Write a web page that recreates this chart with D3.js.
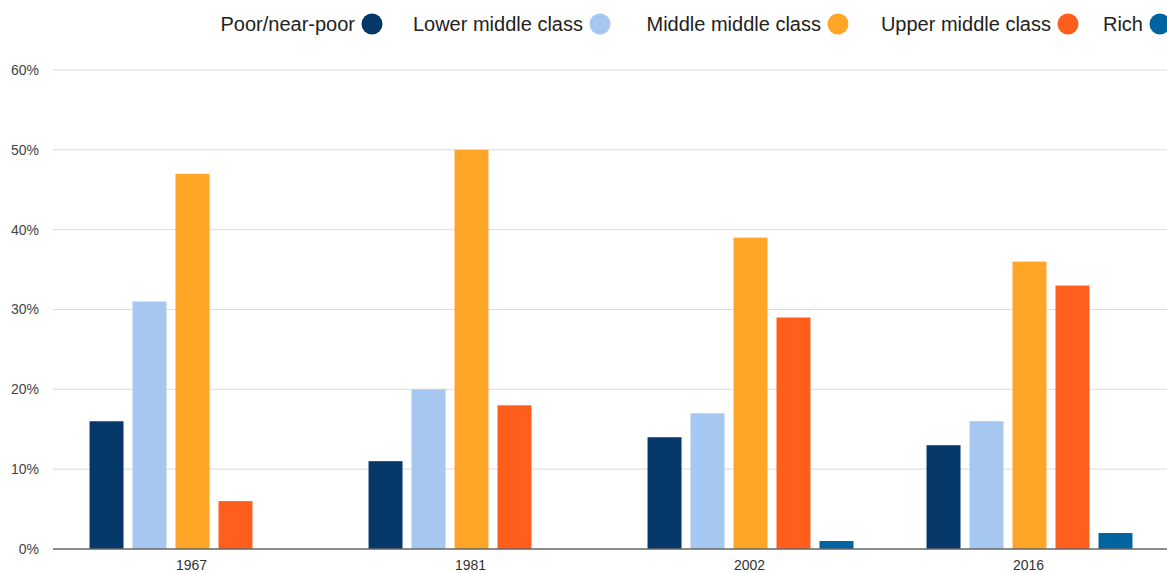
<!DOCTYPE html>
<html><head><meta charset="utf-8">
<script src="https://cdn.jsdelivr.net/npm/d3@7"></script>
<style>
html,body{margin:0;padding:0;background:#fff;overflow:hidden;}
svg{display:block;font-family:"Liberation Sans",Arial,sans-serif;}
</style></head>
<body>
<svg id="chart" width="1167" height="573"></svg>
<script>
const years = ["1967", "1981", "2002", "2016"];
const seriesNames = ["Poor/near-poor", "Lower middle class", "Middle middle class", "Upper middle class", "Rich"];
const poor = [16, 11, 14, 13];
const lowerMiddle = [31, 20, 17, 16];
const middleMiddle = [47, 50, 39, 36];
const upperMiddle = [6, 18, 29, 33];
const rich = [0, 0, 1, 2];
const colors = ["#053769", "#a5c7f0", "#ffa528", "#ff5e1c", "#0064a0"];
const yTicks = [0, 10, 20, 30, 40, 50, 60];

(function () {
const values = [poor, lowerMiddle, middleMiddle, upperMiddle, rich];
const svg = d3.select("#chart");
const mLeft = 53, mRight = 1169, mTop = 70, mBottom = 549;

const x0 = d3.scaleBand().domain(years).range([mLeft, mRight]).paddingInner(0).paddingOuter(0);
const x1 = d3.scaleBand().domain(seriesNames).range([0, x0.bandwidth()]).paddingInner(0.21).paddingOuter(0.85);
const y = d3.scaleLinear().domain([0, 60]).range([mBottom, mTop]);

svg.append("g").selectAll("line").data(yTicks.filter(d => d > 0)).join("line")
  .attr("x1", mLeft).attr("x2", mRight)
  .attr("y1", d => y(d)).attr("y2", d => y(d))
  .attr("stroke", "#dcdcdc").attr("stroke-width", 1);

svg.append("g").selectAll("text").data(yTicks).join("text")
  .attr("x", 39).attr("y", d => y(d)).attr("dy", "0.35em")
  .attr("text-anchor", "end").attr("font-size", 14).attr("fill", "#444")
  .text(d => d + "%");

const groups = svg.append("g").selectAll("g").data(years).join("g")
  .attr("transform", d => `translate(${x0(d)},0)`);
groups.selectAll("rect").data((yr, i) => seriesNames.map((s, j) => ({s, j, v: values[j][i]})))
  .join("rect")
  .attr("x", d => x1(d.s)).attr("width", x1.bandwidth())
  .attr("y", d => y(d.v)).attr("height", d => mBottom - y(d.v))
  .attr("fill", d => colors[d.j]);

svg.append("line").attr("x1", mLeft).attr("x2", mRight).attr("y1", mBottom).attr("y2", mBottom)
  .attr("stroke", "#666").attr("stroke-width", 1.5);

svg.append("g").selectAll("text").data(years).join("text")
  .attr("x", d => x0(d) + x0.bandwidth() / 2 - 1).attr("y", 570)
  .attr("text-anchor", "middle").attr("font-size", 14).attr("fill", "#333")
  .text(d => d);

const legendX = [372, 600, 838, 1068, 1160];
const lg = svg.append("g").selectAll("g").data(seriesNames).join("g")
  .attr("transform", (d, i) => `translate(${legendX[i]},24)`);
lg.append("circle").attr("r", 10.5).attr("fill", (d, i) => colors[i]);
lg.append("text").attr("x", -17).attr("dy", "0.35em").attr("text-anchor", "end")
  .attr("font-size", 20).attr("fill", "#222").text(d => d);
})();
</script>
</body></html>
